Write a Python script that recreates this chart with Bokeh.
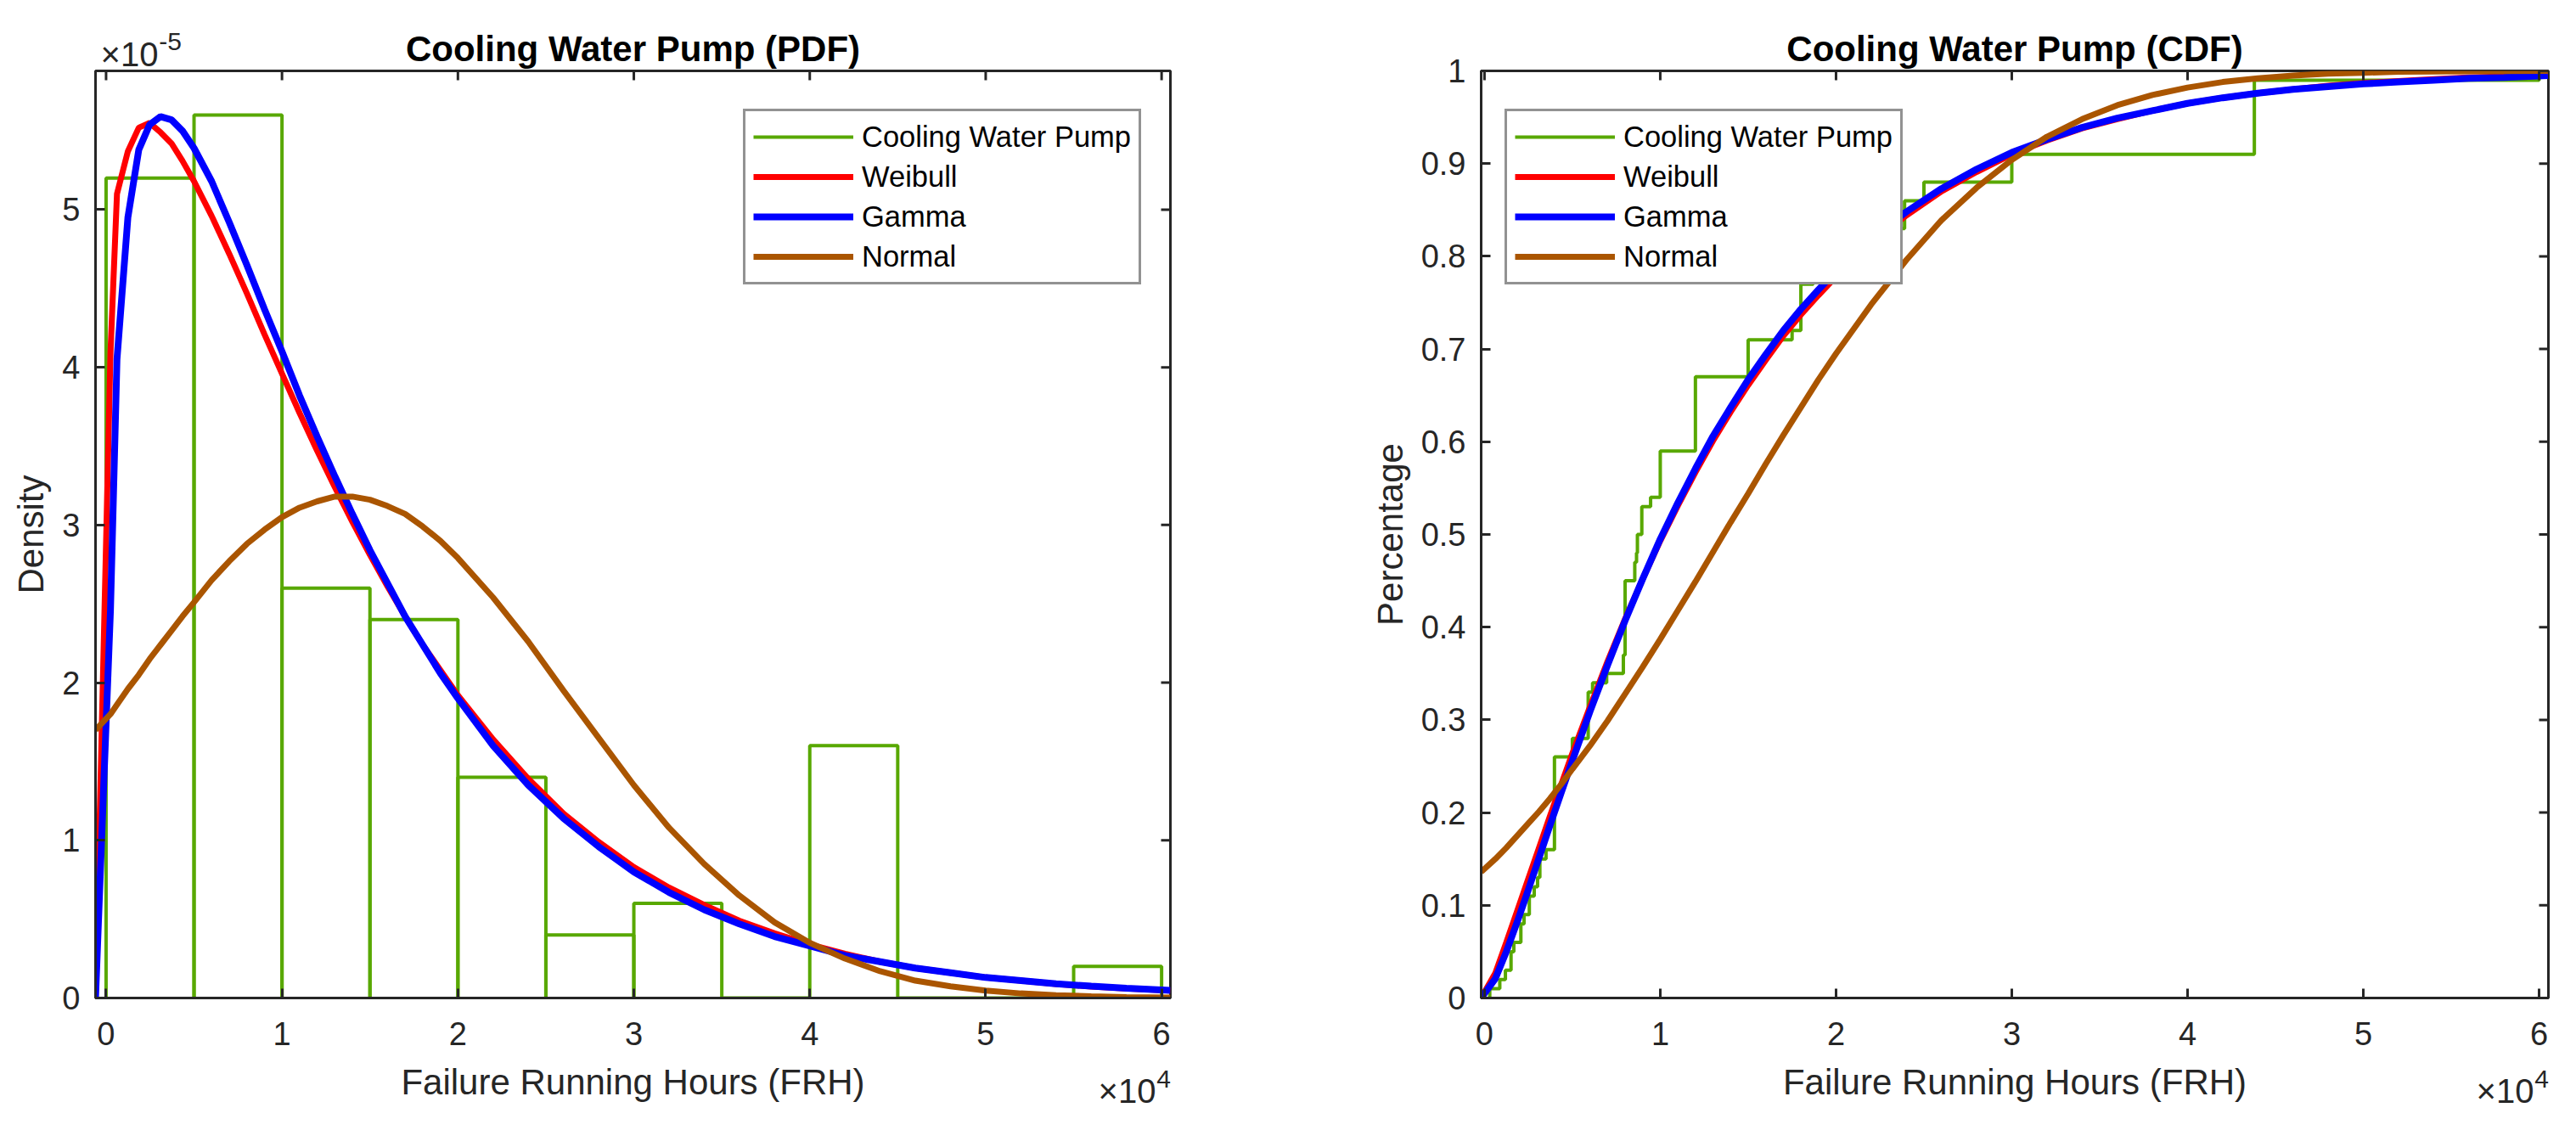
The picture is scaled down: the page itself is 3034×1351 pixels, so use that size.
import json
import math
from bokeh.plotting import figure
from bokeh.models import (Range1d, FixedTicker, CustomJSTickFormatter, LinearAxis,
                          Legend, LegendItem, AllLabels, Title)
from bokeh.layouts import row
from bokeh.embed import file_html
from bokeh.resources import INLINE

# ------------------------------------------------------------------ data
# histogram of failure running hours (density, in units of 1e-5)
bin_left = [0, 5000, 10000, 15000, 20000, 25000, 30000, 35000, 40000, 45000, 50000, 55000]
bin_right = [5000, 10000, 15000, 20000, 25000, 30000, 35000, 40000, 45000, 50000, 55000, 60000]
hist_density_e5 = [5.2, 5.6, 2.6, 2.4, 1.4, 0.4, 0.6, 0.0, 1.6, 0.0, 0.0, 0.2]

# fitted PDFs (units of 1e-5)
pdf_x = [-600, 250, 620, 1240, 1860, 2480, 3100, 3720, 4340,
         5000, 6000, 7000, 8000, 9000, 10000, 11000, 12000, 13000, 14000, 15000,
         16000, 17000, 18000, 19000, 20000,
         22000, 24000, 26000, 28000, 30000, 32000, 34000, 36000, 38000, 40000,
         42000, 44000, 46000, 48000, 50000, 52000, 54000, 56000, 58000, 60500]
weibull_pdf_e5 = [0, 4.09, 5.10, 5.37, 5.52, 5.55, 5.49, 5.42, 5.31,
                  5.18, 4.96, 4.72, 4.47, 4.21, 3.96, 3.71, 3.47, 3.24, 3.02, 2.81,
                  2.61, 2.42, 2.24, 2.08, 1.92,
                  1.64, 1.39, 1.17, 0.99, 0.83, 0.70, 0.59, 0.49, 0.41, 0.34,
                  0.28, 0.23, 0.19, 0.16, 0.13, 0.11, 0.089, 0.073, 0.060, 0.047]
gamma_pdf_e5 = [0, 2.46, 4.05, 4.95, 5.38, 5.54, 5.59, 5.57, 5.50,
                5.39, 5.18, 4.92, 4.65, 4.37, 4.10, 3.82, 3.56, 3.31, 3.07, 2.84,
                2.63, 2.42, 2.24, 2.06, 1.90,
                1.60, 1.35, 1.14, 0.96, 0.80, 0.67, 0.56, 0.47, 0.39, 0.33,
                0.27, 0.23, 0.19, 0.16, 0.13, 0.11, 0.090, 0.075, 0.062, 0.049]
normal_pdf_e5 = [1.70, 1.80, 1.86, 1.96, 2.05, 2.15, 2.24, 2.33, 2.42,
                 2.51, 2.65, 2.77, 2.88, 2.97, 3.05, 3.11, 3.15, 3.18, 3.18, 3.16,
                 3.12, 3.07, 2.99, 2.90, 2.79,
                 2.54, 2.26, 1.95, 1.65, 1.35, 1.08, 0.85, 0.65, 0.48, 0.35,
                 0.25, 0.17, 0.11, 0.074, 0.047, 0.029, 0.018, 0.011, 0.006, 0.003]

# empirical CDF: failure hours at each jump and the level reached
ecdf_x = [300, 870, 1190, 1510, 1670, 2070, 2250, 2550, 2830, 3020, 3150, 3500,
          3980, 5000, 5900, 6150, 6950, 7900, 8000, 8550, 8650, 8700, 8950, 9450,
          10000, 12000, 15000, 17500, 18000, 18700, 20500, 21500, 22500, 23900,
          25000, 30000, 43800, 60000]
ecdf_F = [0.01, 0.02, 0.03, 0.05, 0.06, 0.08, 0.09, 0.11, 0.12, 0.13, 0.15, 0.16,
          0.26, 0.28, 0.33, 0.34, 0.35, 0.37, 0.45, 0.47, 0.48, 0.50, 0.53, 0.54,
          0.59, 0.67, 0.71, 0.72, 0.77, 0.79, 0.80, 0.82, 0.83, 0.86,
          0.88, 0.91, 0.99, 1.00]

# fitted CDFs
cdf_x = [-190, 620, 1240, 1860, 2480, 3100, 3720, 4340,
         5000, 6000, 7000, 8000, 9000, 10000, 11000, 12000, 13000, 14000, 15000,
         16000, 17000, 18000, 19000, 20000,
         22000, 24000, 26000, 28000, 30000, 32000, 34000, 36000, 38000, 40000,
         42000, 44000, 46000, 48000, 50000, 52000, 54000, 56000, 58000, 60500]
weibull_cdf = [0, 0.027, 0.060, 0.094, 0.128, 0.162, 0.196, 0.229,
               0.264, 0.314, 0.363, 0.409, 0.452, 0.493, 0.531, 0.567, 0.601, 0.632, 0.661,
               0.688, 0.714, 0.737, 0.758, 0.778,
               0.814, 0.844, 0.870, 0.891, 0.910, 0.925, 0.938, 0.948, 0.957, 0.965,
               0.971, 0.976, 0.980, 0.984, 0.987, 0.989, 0.991, 0.993, 0.994, 0.995]
gamma_cdf = [0, 0.021, 0.050, 0.082, 0.116, 0.151, 0.186, 0.220,
             0.256, 0.309, 0.359, 0.407, 0.452, 0.495, 0.534, 0.571, 0.606, 0.637, 0.667,
             0.694, 0.720, 0.743, 0.764, 0.784,
             0.819, 0.848, 0.873, 0.894, 0.912, 0.926, 0.939, 0.949, 0.957, 0.965,
             0.971, 0.976, 0.980, 0.983, 0.986, 0.988, 0.990, 0.992, 0.993, 0.995]
normal_cdf = [0.136, 0.150, 0.162, 0.175, 0.188, 0.201, 0.215, 0.230,
              0.247, 0.272, 0.299, 0.328, 0.357, 0.387, 0.418, 0.449, 0.481, 0.513, 0.544,
              0.576, 0.607, 0.637, 0.667, 0.695,
              0.748, 0.796, 0.839, 0.874, 0.904, 0.929, 0.948, 0.963, 0.974, 0.982,
              0.988, 0.992, 0.995, 0.997, 0.998, 0.999, 0.9994, 0.9996, 0.9998, 0.9999]

x_ticks = [0, 10000, 20000, 30000, 40000, 50000, 60000]
pdf_y_ticks = [0, 1, 2, 3, 4, 5]
cdf_y_ticks = [0, 0.1, 0.2, 0.3, 0.4, 0.5, 0.6, 0.7, 0.8, 0.9, 1.0]
legend_labels = ["Cooling Water Pump", "Weibull", "Gamma", "Normal"]
titles = ["Cooling Water Pump (PDF)", "Cooling Water Pump (CDF)"]
x_label = "Failure Running Hours (FRH)"
y_labels = ["Density", "Percentage"]
exp_base = "×10"
x_exp_power = "4"
pdf_y_exp_power = "-5"

# ------------------------------------------------------------------ style
FONT = "Liberation Sans"
AX = "#262626"
GREEN = "#58A800"
RED = "#FF0000"
BLUE = "#0000FF"
BROWN = "#AA5500"
FRAME_H = 1092


def style_axis(ax, ticks, code, label=None, standoff=28):
    ax.ticker = FixedTicker(ticks=ticks)
    ax.formatter = CustomJSTickFormatter(code=code)
    ax.major_tick_in = 11
    ax.major_tick_out = 0
    ax.minor_tick_in = 0
    ax.minor_tick_out = 0
    ax.major_tick_line_color = AX
    ax.major_tick_line_width = 3
    ax.axis_line_color = AX
    ax.axis_line_width = 3
    ax.major_label_text_font = FONT
    ax.major_label_text_font_size = "38px"
    ax.major_label_text_color = AX
    ax.major_label_standoff = standoff
    if label:
        ax.axis_label = label
        ax.axis_label_text_font = FONT
        ax.axis_label_text_font_size = "42px"
        ax.axis_label_text_font_style = "normal"
        ax.axis_label_text_color = AX


def text_axis(p, side, ticks, labels, size, standoff):
    """An axis without line/ticks that only carries texts at chosen x positions."""
    ax = LinearAxis(ticker=FixedTicker(ticks=ticks),
                    formatter=CustomJSTickFormatter(
                        code="return %s[index];" % json.dumps(labels)),
                    major_label_policy=AllLabels())
    ax.axis_line_color = None
    ax.major_tick_line_color = None
    ax.minor_tick_line_color = None
    ax.major_tick_in = 0
    ax.major_tick_out = 0
    ax.minor_tick_in = 0
    ax.minor_tick_out = 0
    ax.major_label_text_font = FONT
    ax.major_label_text_font_size = size
    ax.major_label_text_color = AX
    ax.major_label_standoff = standoff
    p.add_layout(ax, side)


def mirror_ticks(p, xr, yr, xt, yt):
    # tick marks on the top and right edges of the box (half clipped by frame)
    p.scatter(x=xt, y=[yr[1]] * len(xt), marker="dash", size=22, angle=math.pi / 2,
              line_color=AX, line_width=3)
    p.scatter(x=[xr[1]] * len(yt), y=yt, marker="dash", size=22,
              line_color=AX, line_width=3)


def make_fig(xr, yr, left, right, fw, title):
    p = figure(frame_width=fw, frame_height=FRAME_H, title=None,
               min_border_left=left, min_border_right=right,
               min_border_top=83, min_border_bottom=160,
               x_range=Range1d(*xr), y_range=Range1d(*yr),
               toolbar_location=None, output_backend="svg",
               background_fill_color="white", border_fill_color="white")
    p.grid.visible = False
    p.outline_line_color = AX
    p.outline_line_width = 3
    p.add_layout(Title(text=title, align="center", text_font=FONT,
                       text_font_size="42px", text_font_style="bold",
                       text_color="black", standoff=5), "above")
    return p


def make_legend(p, renderers, loc):
    items = [LegendItem(label=t, renderers=[r]) for t, r in zip(legend_labels, renderers)]
    lg = Legend(items=items, location=loc,
                label_text_font=FONT, label_text_font_size="34.5px",
                label_text_color="black",
                border_line_color=AX, border_line_width=3,
                background_fill_color="white", background_fill_alpha=1.0,
                padding=9, spacing=5, label_height=42, glyph_height=42,
                glyph_width=118, label_standoff=10, margin=0)
    p.add_layout(lg)


def px_to_data(xr, fw, px):
    return px / fw * (xr[1] - xr[0])


def bottom_exponent(p, xr, fw):
    # "×10" with a raised "4", right-aligned with the box, on the x-label row
    text_axis(p, "below", [xr[1] - px_to_data(xr, fw, 51)], [exp_base], "40px", -38)
    text_axis(p, "below", [xr[1] - px_to_data(xr, fw, 8)], [x_exp_power], "30px", -49)


# ------------------------------------------------------------------ PDF
xr1 = (-600, 60500)
yr1 = (0, 5.88)
FW1 = 1266
p1 = make_fig(xr1, yr1, 112, 174, FW1, titles[0])
style_axis(p1.xaxis[0], x_ticks, "return (tick/10000).toFixed(0);", x_label)
style_axis(p1.yaxis[0], pdf_y_ticks, "return tick.toFixed(0);", y_labels[0], standoff=18)
p1.xaxis[0].axis_label_standoff = 17
p1.yaxis[0].axis_label_standoff = 10
# "×10" with a raised "-5" at the top-left corner of the box
text_axis(p1, "above", [xr1[0] + px_to_data(xr1, FW1, 88)], [pdf_y_exp_power], "30px", -29)
text_axis(p1, "above", [xr1[0] + px_to_data(xr1, FW1, 40)], [exp_base], "40px", -56)
bottom_exponent(p1, xr1, FW1)

bars_xs = [[l, l, r, r] for l, r in zip(bin_left, bin_right)]
bars_ys = [[0, h, h, 0] for h in hist_density_e5]
r_hist = p1.multi_line(xs=bars_xs, ys=bars_ys, line_color=GREEN, line_width=4)
r_w = p1.line(pdf_x, weibull_pdf_e5, line_color=RED, line_width=7)
r_g = p1.line(pdf_x, gamma_pdf_e5, line_color=BLUE, line_width=8)
r_n = p1.line(pdf_x, normal_pdf_e5, line_color=BROWN, line_width=7)
mirror_ticks(p1, xr1, yr1, x_ticks, pdf_y_ticks)
make_legend(p1, [r_hist, r_w, r_g, r_n], (763, 840))

# ------------------------------------------------------------------ CDF
xr2 = (-190, 60530)
yr2 = (0, 1)
FW2 = 1257
p2 = make_fig(xr2, yr2, 192, 12, FW2, titles[1])
style_axis(p2.xaxis[0], x_ticks, "return (tick/10000).toFixed(0);", x_label)
style_axis(p2.yaxis[0], cdf_y_ticks,
           "var v = Math.round(tick*10)/10; return v.toString();", y_labels[1], standoff=18)
p2.xaxis[0].axis_label_standoff = 17
p2.yaxis[0].axis_label_standoff = 10
bottom_exponent(p2, xr2, FW2)

r_e = p2.step([ecdf_x[0]] + ecdf_x, [0] + ecdf_F, mode="after",
              line_color=GREEN, line_width=4)
r_w2 = p2.line(cdf_x, weibull_cdf, line_color=RED, line_width=7)
r_g2 = p2.line(cdf_x, gamma_cdf, line_color=BLUE, line_width=8)
r_n2 = p2.line(cdf_x, normal_cdf, line_color=BROWN, line_width=7)
mirror_ticks(p2, xr2, yr2, x_ticks, cdf_y_ticks)
make_legend(p2, [r_e, r_w2, r_g2, r_n2], (28, 840))

layout = row(p1, p2)
open("out.html", "w").write(file_html(layout, INLINE))
